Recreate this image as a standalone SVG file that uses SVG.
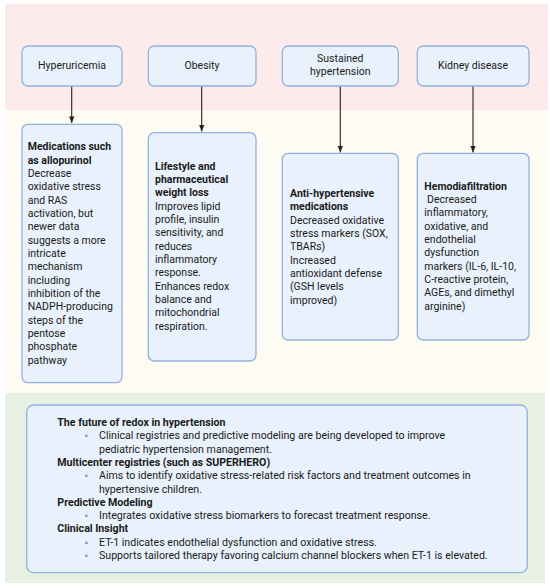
<svg xmlns="http://www.w3.org/2000/svg" width="550" height="588" viewBox="0 0 550 588">
<defs>
<style>
.box{fill:#e9f1fc;stroke:#92b2e0;stroke-width:1.3}
text{font-family:Roboto,"Liberation Sans",sans-serif;font-size:10.5px;fill:#1a1a1a}
.b{font-weight:bold}
.c{text-anchor:middle}
.f{font-size:10.62px}
.con{stroke:#222;stroke-width:1.1;fill:none}
</style>
<marker id="ah" viewBox="0 0 10 10" refX="10" refY="5" markerWidth="6" markerHeight="6" orient="auto">
<path d="M0,1 L10,5 L0,9 z" fill="#222"/>
</marker>
</defs>
<rect x="0" y="0" width="550" height="588" fill="#ffffff"/>
<rect x="5" y="4" width="543" height="106" fill="#fdeaea"/>
<rect x="5" y="110" width="543" height="283" fill="#fefbf3"/>
<rect x="5" y="393" width="540" height="190" fill="#e7f0e2"/>

<g id="connectors">
<line class="con" x1="71.7" y1="86" x2="71.7" y2="123" marker-end="url(#ah)"/>
<line class="con" x1="201.7" y1="86" x2="201.7" y2="131.5" marker-end="url(#ah)"/>
<line class="con" x1="340.3" y1="86" x2="340.3" y2="152.5" marker-end="url(#ah)"/>
<line class="con" x1="473" y1="86" x2="473" y2="152.5" marker-end="url(#ah)"/>
</g>

<g id="n-hyperuricemia">
<rect class="box" x="22" y="46" width="100" height="40" rx="6"/>
<text class="c" x="72" y="69">Hyperuricemia</text>
</g>
<g id="n-obesity">
<rect class="box" x="148.3" y="46" width="107.7" height="40" rx="6"/>
<text class="c" x="202" y="69">Obesity</text>
</g>
<g id="n-sustained">
<rect class="box" x="282.3" y="46" width="116" height="40" rx="6"/>
<text class="c" x="340.3" y="62">Sustained</text>
<text class="c" x="340.3" y="75.4">hypertension</text>
</g>
<g id="n-kidney">
<rect class="box" x="417.3" y="46" width="111.7" height="40" rx="6"/>
<text class="c" x="473" y="69">Kidney disease</text>
</g>

<g id="n-medications">
<rect class="box" x="22" y="124.3" width="100" height="258.4" rx="6"/>
<text x="27.7" y="150.4"><tspan class="b">Medications such</tspan><tspan class="b" x="27.7" dy="13.33">as allopurinol</tspan><tspan x="27.7" dy="13.33">Decrease</tspan><tspan x="27.7" dy="13.33">oxidative stress</tspan><tspan x="27.7" dy="13.33">and RAS</tspan><tspan x="27.7" dy="13.33">activation, but</tspan><tspan x="27.7" dy="13.33">newer data</tspan><tspan x="27.7" dy="13.33">suggests a more</tspan><tspan x="27.7" dy="13.33">intricate</tspan><tspan x="27.7" dy="13.33">mechanism</tspan><tspan x="27.7" dy="13.33">including</tspan><tspan x="27.7" dy="13.33">inhibition of the</tspan><tspan x="27.7" dy="13.33">NADPH-producing</tspan><tspan x="27.7" dy="13.33">steps of the</tspan><tspan x="27.7" dy="13.33">pentose</tspan><tspan x="27.7" dy="13.33">phosphate</tspan><tspan x="27.7" dy="13.33">pathway</tspan></text>
</g>

<g id="n-lifestyle">
<rect class="box" x="148.3" y="132.7" width="107.7" height="228.3" rx="6"/>
<text x="155" y="169.8"><tspan class="b">Lifestyle and</tspan><tspan class="b" x="155" dy="13.33">pharmaceutical</tspan><tspan class="b" x="155" dy="13.33">weight loss</tspan><tspan x="155" dy="13.33">Improves lipid</tspan><tspan x="155" dy="13.33">profile, insulin</tspan><tspan x="155" dy="13.33">sensitivity, and</tspan><tspan x="155" dy="13.33">reduces</tspan><tspan x="155" dy="13.33">inflammatory</tspan><tspan x="155" dy="13.33">response.</tspan><tspan x="155" dy="13.33">Enhances redox</tspan><tspan x="155" dy="13.33">balance and</tspan><tspan x="155" dy="13.33">mitochondrial</tspan><tspan x="155" dy="13.33">respiration.</tspan></text>
</g>

<g id="n-antihypertensive">
<rect class="box" x="282.3" y="153.3" width="116" height="186.7" rx="6"/>
<text x="290" y="197"><tspan class="b">Anti-hypertensive</tspan><tspan class="b" x="290" dy="13.33">medications</tspan><tspan x="290" dy="13.33">Decreased oxidative</tspan><tspan x="290" dy="13.33">stress markers (SOX,</tspan><tspan x="290" dy="13.33">TBARs)</tspan><tspan x="290" dy="13.33">Increased</tspan><tspan x="290" dy="13.33">antioxidant defense</tspan><tspan x="290" dy="13.33">(GSH levels</tspan><tspan x="290" dy="13.33">improved)</tspan></text>
</g>

<g id="n-hemodiafiltration">
<rect class="box" x="417.3" y="153.3" width="111.7" height="186.7" rx="6"/>
<text x="424.3" y="189.8"><tspan class="b">Hemodiafiltration</tspan><tspan x="427" dy="13.33">Decreased</tspan><tspan x="424.3" dy="13.33">inflammatory,</tspan><tspan x="424.3" dy="13.33">oxidative, and</tspan><tspan x="424.3" dy="13.33">endothelial</tspan><tspan x="424.3" dy="13.33">dysfunction</tspan><tspan x="424.3" dy="13.33">markers (IL-6, IL-10,</tspan><tspan x="424.3" dy="13.33">C-reactive protein,</tspan><tspan x="424.3" dy="13.33">AGEs, and dimethyl</tspan><tspan x="424.3" dy="13.33">arginine)</tspan></text>
</g>

<g id="n-future">
<rect class="box" x="26.7" y="405" width="500.6" height="167.7" rx="7"/>
<text class="b f" x="57.3" y="426">The future of redox in hypertension</text>
<text class="f" x="84.5" y="439.3">◦</text>
<text class="f" x="99" y="439.3">Clinical registries and predictive modeling are being developed to improve</text>
<text class="f" x="99" y="452.6">pediatric hypertension management.</text>
<text class="b f" x="57.3" y="465.9">Multicenter registries (such as SUPERHERO)</text>
<text class="f" x="84.5" y="479.2">◦</text>
<text class="f" x="99" y="479.2">Aims to identify oxidative stress-related risk factors and treatment outcomes in</text>
<text class="f" x="99" y="492.5">hypertensive children.</text>
<text class="b f" x="57.3" y="505.8">Predictive Modeling</text>
<text class="f" x="84.5" y="519.1">◦</text>
<text class="f" x="99" y="519.1">Integrates oxidative stress biomarkers to forecast treatment response.</text>
<text class="b f" x="57.3" y="532.4">Clinical Insight</text>
<text class="f" x="84.5" y="545.7">◦</text>
<text class="f" x="99" y="545.7">ET-1 indicates endothelial dysfunction and oxidative stress.</text>
<text class="f" x="84.5" y="559">◦</text>
<text class="f" x="99" y="559">Supports tailored therapy favoring calcium channel blockers when ET-1 is elevated.</text>
</g>
</svg>
